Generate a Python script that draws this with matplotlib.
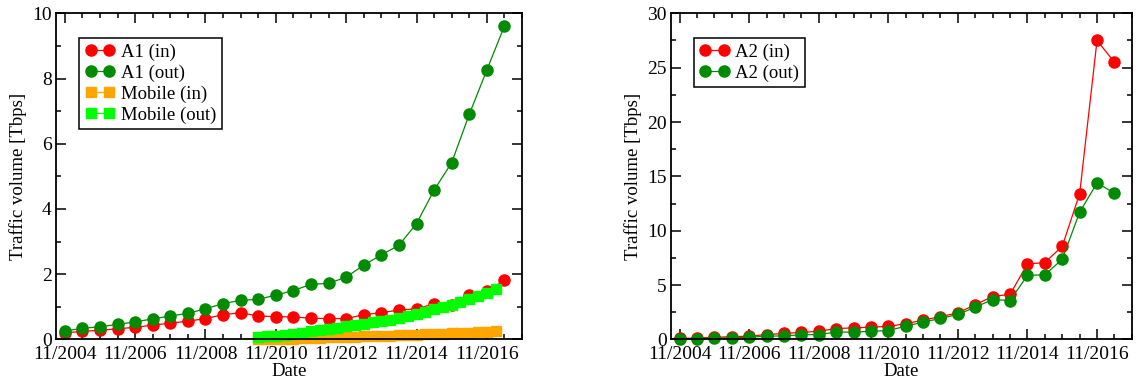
import matplotlib.pyplot as plt
from matplotlib.ticker import MultipleLocator, FixedLocator

plt.rcParams['font.family'] = ['Liberation Serif', 'DejaVu Serif']
plt.rcParams['font.size'] = 13.5

# half-yearly samples
dates = ["11/2004", "5/2005", "11/2005", "5/2006", "11/2006", "5/2007",
         "11/2007", "5/2008", "11/2008", "5/2009", "11/2009", "5/2010",
         "11/2010", "5/2011", "11/2011", "5/2012", "11/2012", "5/2013",
         "11/2013", "5/2014", "11/2014", "5/2015", "11/2015", "5/2016",
         "11/2016", "5/2017"]

a1_in = [0.20, 0.25, 0.28, 0.33, 0.37, 0.44, 0.50, 0.56, 0.64, 0.76, 0.82,
         0.72, 0.70, 0.69, 0.65, 0.64, 0.64, 0.76, 0.82, 0.90, 0.94, 1.09,
         1.07, 1.35, 1.48, 1.81]
a1_out = [0.26, 0.34, 0.39, 0.46, 0.54, 0.63, 0.72, 0.80, 0.94, 1.10, 1.20,
          1.23, 1.36, 1.50, 1.69, 1.72, 1.91, 2.28, 2.59, 2.89, 3.55, 4.58,
          5.42, 6.90, 8.26, 9.61]

a2_in = [0.10, 0.12, 0.20, 0.25, 0.30, 0.45, 0.55, 0.65, 0.75, 1.00, 1.07,
         1.13, 1.20, 1.45, 1.78, 2.10, 2.45, 3.20, 3.95, 4.15, 6.95, 7.07,
         8.57, 13.40, 27.50, 25.50]
a2_out = [0.05, 0.05, 0.12, 0.15, 0.20, 0.30, 0.33, 0.43, 0.45, 0.68, 0.68,
          0.75, 0.82, 1.22, 1.60, 1.93, 2.30, 2.97, 3.67, 3.58, 5.90, 5.94,
          7.38, 11.70, 14.40, 13.45]

# quarterly samples
mobile_dates = ["5/2010", "8/2010", "11/2010", "2/2011", "5/2011", "8/2011",
                "11/2011", "2/2012", "5/2012", "8/2012", "11/2012", "2/2013",
                "5/2013", "8/2013", "11/2013", "2/2014", "5/2014", "8/2014",
                "11/2014", "2/2015", "5/2015", "8/2015", "11/2015", "2/2016",
                "5/2016", "8/2016", "11/2016", "2/2017"]
mobile_in = [0.00, 0.00, 0.01, 0.01, 0.02, 0.03, 0.04, 0.05, 0.06, 0.07,
             0.08, 0.09, 0.10, 0.10, 0.11, 0.12, 0.13, 0.14, 0.15, 0.16,
             0.17, 0.18, 0.19, 0.20, 0.21, 0.22, 0.23, 0.25]
mobile_out = [0.08, 0.10, 0.12, 0.15, 0.18, 0.21, 0.25, 0.28, 0.32, 0.36,
              0.40, 0.44, 0.48, 0.52, 0.56, 0.60, 0.65, 0.71, 0.78, 0.85,
              0.92, 1.00, 1.07, 1.15, 1.24, 1.32, 1.41, 1.56]

tick_dates = ["11/2004", "11/2006", "11/2008", "11/2010", "11/2012",
              "11/2014", "11/2016"]

RED = "#ff0000"
DGREEN = "#008b00"
LGREEN = "#00ff00"
ORANGE = "#ffa500"


def to_year(s):
    m, y = s.split('/')
    return int(y) + (int(m) - 1) / 12.0


x = [to_year(d) for d in dates]
xm = [to_year(d) for d in mobile_dates]
x0 = to_year("11/2004")


def style_axes(ax, ymax, ymajor):
    ax.set_xlim(x0 - 0.25, x0 + 13.0)
    ax.set_ylim(0, ymax)
    ax.xaxis.set_major_locator(FixedLocator([to_year(d) for d in tick_dates]))
    ax.set_xticklabels(tick_dates)
    ax.xaxis.set_minor_locator(FixedLocator([x0 + 0.5 * i for i in range(27)]))
    ax.yaxis.set_major_locator(MultipleLocator(ymajor))
    ax.yaxis.set_minor_locator(MultipleLocator(ymajor / 2))
    ax.tick_params(which='both', direction='in', top=True, right=True,
                   width=1.1, labelsize=14)
    ax.tick_params(which='major', length=7)
    ax.tick_params(axis='x', which='major', pad=4.5)
    ax.tick_params(axis='y', which='major', pad=3)
    ax.tick_params(which='minor', length=3.5)
    for s in ax.spines.values():
        s.set_linewidth(1.3)
    ax.set_xlabel("Date", labelpad=0)
    ax.set_ylabel("Traffic volume [Tbps]", labelpad=4)


fig = plt.figure(figsize=(11.39, 3.84), dpi=100)
ax1 = fig.add_axes([0.0492, 0.116, 0.4091, 0.8494])
ax2 = fig.add_axes([0.589, 0.116, 0.4047, 0.8494])

kw = dict(linewidth=0.9, clip_on=False)
ax1.plot(x, a1_in, '-o', color=RED, ms=8, label="A1 (in)", **kw)
ax1.plot(x, a1_out, '-o', color=DGREEN, ms=8, label="A1 (out)", **kw)
ax1.plot(xm, mobile_in, '-s', color=ORANGE, ms=6.5, label="Mobile (in)", **kw)
ax1.plot(xm, mobile_out, '-s', color=LGREEN, ms=6.5, label="Mobile (out)", **kw)
style_axes(ax1, 10, 2)

ax2.plot(x, a2_in, '-o', color=RED, ms=8, label="A2 (in)", **kw)
ax2.plot(x, a2_out, '-o', color=DGREEN, ms=8, label="A2 (out)", **kw)
style_axes(ax2, 30, 5)

for ax in (ax1, ax2):
    leg = ax.legend(loc='upper left', bbox_to_anchor=(0.05, 0.925),
                    numpoints=2, handlelength=1.6, handletextpad=0.3,
                    labelspacing=0.2, borderpad=0.3, borderaxespad=0,
                    fancybox=False, framealpha=1, edgecolor='black')
    leg.get_frame().set_linewidth(1.1)

fig.savefig("out.png", dpi=100)
